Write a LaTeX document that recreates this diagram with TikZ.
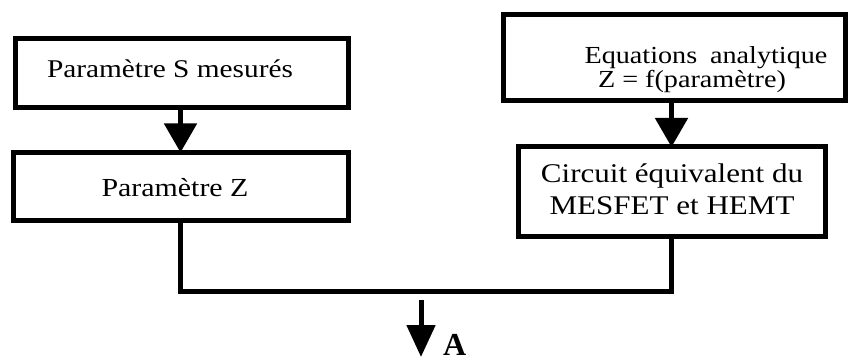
\documentclass[tikz,border=0pt]{standalone}
\usepackage{fontspec}
\usepackage{graphicx}
\setmainfont{Liberation Serif}
\usetikzlibrary{arrows.meta}

% horizontally widened text line
\newcommand{\wideline}[1]{\scalebox{1.15}[1]{#1}}

\begin{document}
\begin{tikzpicture}[x=1pt,y=-1pt,
  box/.style={draw=black,line width=5pt,inner sep=0pt,outer sep=0pt},
  lbl/.style={inner sep=0pt,outer sep=0pt},
  conn/.style={line width=5pt,line join=miter},
  flow/.style={line width=5pt,-{Triangle[width=32pt,length=29pt]}}]
  \useasboundingbox (0,0) rectangle (848,363);

  % boxes
  \node[box,minimum width=333pt,minimum height=69pt] (mes) at (181.5,73.5) {};
  \node[box,minimum width=335pt,minimum height=68.5pt] (zpar) at (180.5,186.75) {};
  \node[box,minimum width=341.5pt,minimum height=86.5pt] (eqn) at (674.25,57.75) {};
  \node[box,minimum width=307pt,minimum height=89.5pt] (circ) at (671.5,191.75) {};

  % box texts
  \node[lbl,anchor=base west,font=\fontsize{25.5}{28}\selectfont] (mestxt) at (47,78) {\wideline{Paramètre S mesurés}};
  \node[lbl,anchor=base,font=\fontsize{26}{30}\selectfont] (ztxt) at (175,197) {\wideline{Paramètre Z}};
  \node[lbl,anchor=base,font=\fontsize{24.5}{25}\selectfont] (eqtxt1) at (706,64) {\wideline{Equations\hspace{5pt} analytique}};
  \node[lbl,anchor=base,font=\fontsize{24.5}{25}\selectfont] (eqtxt2) at (692,88) {\wideline{Z = f(paramètre)}};
  \node[lbl,anchor=base,font=\fontsize{27}{32}\selectfont] (ctxt1) at (672,183) {\wideline{Circuit équivalent du}};
  \node[lbl,anchor=base,font=\fontsize{27}{32}\selectfont] (ctxt2) at (672,215) {\wideline{MESFET et HEMT}};

  % arrows between boxes
  \draw[flow] (mes.south -| zpar.north) -- (zpar.north);
  \draw[flow] (eqn.south -| circ.north) -- (circ.north);

  % joining line and output arrow
  \coordinate (jl) at (zpar.south |- 0,291);
  \coordinate (jr) at (circ.south |- 0,291);
  \draw[conn] (zpar.south) -- (jl) -- (jr) -- (circ.south);
  \coordinate (outs) at (421,300);
  \coordinate (oute) at (421,357);
  \draw[flow,-{Triangle[width=28pt,length=32pt]}] (outs) -- (oute);
  \node[lbl,anchor=base west,font=\fontsize{32}{36}\selectfont\bfseries] (outA) at (443,355) {A};
\end{tikzpicture}
\end{document}
